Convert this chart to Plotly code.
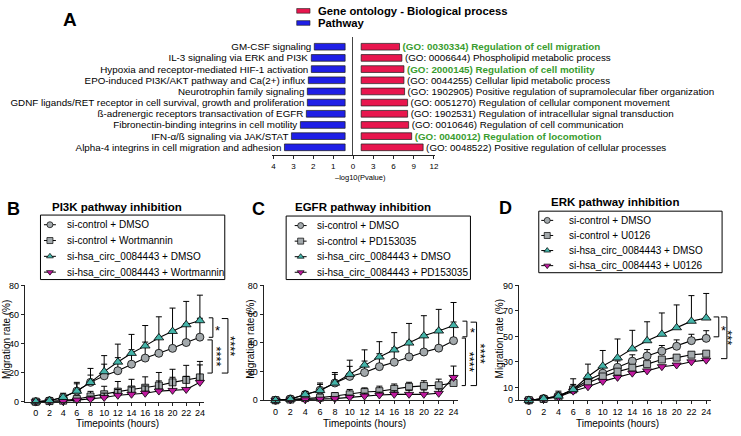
import plotly.graph_objects as go

W, H = 741, 436
FONT = "Liberation Sans, Arial, Helvetica, sans-serif"

# ---------------- Panel A data ----------------
pathway_terms = [
    "GM-CSF signaling",
    "IL-3 signaling via ERK and PI3K",
    "Hypoxia and receptor-mediated HIF-1 activation",
    "EPO-induced PI3K/AKT pathway and Ca(2+) influx",
    "Neurotrophin family signaling",
    "GDNF ligands/RET receptor in cell survival, growth and proliferation",
    "ß-adrenergic receptors transactivation of EGFR",
    "Fibronectin-binding integrins in cell motility",
    "IFN-α/ß signaling via JAK/STAT",
    "Alpha-4 integrins in cell migration and adhesion",
]
pathway_logp = [1.95, 2.1, 2.1, 2.25, 2.3, 2.3, 2.35, 2.65, 3.1, 3.45]

go_terms = [
    "(GO: 0030334) Regulation of cell migration",
    "(GO: 0006644) Phospholipid metabolic process",
    "(GO: 2000145) Regulation of cell motility",
    "(GO: 0044255) Cellular lipid metabolic process",
    "(GO: 1902905) Positive regulation of supramolecular fiber organization",
    "(GO: 0051270) Regulation of cellular component movement",
    "(GO: 1902531) Regulation of intracellular signal transduction",
    "(GO: 0010646) Regulation of cell communication",
    "(GO: 0040012) Regulation of locomotion",
    "(GO: 0048522) Positive regulation of cellular processes",
]
go_logp = [6.9, 7.25, 7.55, 7.55, 7.65, 8.1, 8.1, 8.25, 8.7, 10.4]
go_highlight = [True, False, True, False, False, False, False, False, True, False]

left_ticks = [0, 1, 2, 3, 4]
right_ticks = [0, 3, 6, 9, 12]
right_ticktext = ["", "3", "6", "9", "12"]

# ---------------- Panels B-D data ----------------
hours = [0, 2, 4, 6, 8, 10, 12, 14, 16, 18, 20, 22, 24]

b_names = ["si-control + DMSO", "si-control + Wortmannin",
           "si-hsa_circ_0084443 + DMSO", "si-hsa_circ_0084443 + Wortmannin"]
b_ctrl_dmso = [0, 0.7, 3, 7.3, 13.3, 17.8, 21.3, 25.8, 30, 33.3, 36.7, 40.7, 44.4]
b_ctrl_dmso_err = [0, 0.5, 2, 5, 5, 8, 9, 10, 11, 11, 12, 13, 13]
b_ctrl_inh = [0, 0.4, 0.7, 1.8, 3.6, 5.1, 6.9, 8.4, 9.6, 11.1, 13.3, 15, 16.7]
b_ctrl_inh_err = [0, 0.3, 1, 2, 3.5, 5.5, 7, 7, 7.5, 9, 9, 10, 11]
b_si_dmso = [0, 0.7, 3, 7.3, 13.3, 20.7, 27.3, 33.3, 38.4, 44, 48.4, 53, 55.8]
b_si_dmso_err = [0, 0.5, 2.8, 6, 9.6, 11, 12.3, 13, 14, 14.4, 16, 16, 17.5]
b_si_inh = [0, 0.3, 0.2, 1.1, 1.8, 2.9, 4.4, 5.1, 5.8, 7.3, 7.8, 8.4, 13.3]
b_si_inh_err = [0, 0.2, 0.5, 1, 2, 3, 4, 5, 5, 7, 9, 9, 12]

c_names = ["si-control + DMSO", "si-control + PD153035",
           "si-hsa_circ_0084443 + DMSO", "si-hsa_circ_0084443 + PD153035"]
c_ctrl_dmso = [0, 0.9, 4, 7, 12, 16.6, 19.3, 23.4, 26.5, 30.2, 33.6, 36.3, 41.5]
c_ctrl_dmso_err = [0, 0.5, 1.5, 4, 6, 7, 8, 9, 10, 11, 12, 13, 13]
c_ctrl_inh = [0, 0.5, 1.5, 1.8, 2.9, 4.1, 5.7, 6.3, 7.9, 9.3, 10, 10.4, 12]
c_ctrl_inh_err = [0, 0.3, 1, 1.5, 2.3, 3.4, 2.9, 3.5, 3.4, 3.2, 3.6, 4.3, 5]
c_si_dmso = [0, 0.7, 4, 6.8, 12, 18.1, 24.5, 30.2, 35.1, 39.9, 44.9, 48.3, 52.1]
c_si_dmso_err = [0, 0.5, 2, 5.2, 7.3, 9.8, 10.6, 10.6, 12, 13.6, 14, 15, 16]
c_si_inh = [0, 0.2, 0.3, 0.7, 1.1, 2, 2.9, 3.6, 4.1, 4.1, 4.1, 4.8, 15.9]
c_si_inh_err = [0, 0.2, 0.3, 0.5, 1, 1.5, 2, 2, 2.5, 3, 3, 3, 7.9]

d_names = ["si-control + DMSO", "si-control + U0126",
           "si-hsa_circ_0084443 + DMSO", "si-hsa_circ_0084443 + U0126"]
d_ctrl_dmso = [0, 1.3, 3.3, 8.4, 15.6, 21.2, 25.8, 30.6, 34.7, 38.5, 42.3, 46.7, 48.5]
d_ctrl_dmso_err = [0, 0.5, 2, 4, 4, 5, 5, 5, 5, 4.4, 5, 5, 6]
d_ctrl_inh = [0, 1, 2.8, 8.4, 13.5, 18.6, 22.4, 25.5, 28.3, 31.9, 33.4, 35.7, 36.5]
d_ctrl_inh_err = [0, 0.5, 1, 2, 2, 2, 2, 2, 2, 2, 2, 2, 2]
d_si_dmso = [0, 1.3, 3.3, 8.4, 18.6, 26.8, 33.2, 40.3, 46.7, 51.8, 56.9, 62, 64.5]
d_si_dmso_err = [0, 0.5, 3.8, 8.4, 9.7, 12.2, 14.8, 14.5, 14.8, 16.6, 17.8, 20, 19.2]
d_si_inh = [0, 1, 2.5, 7.1, 10.5, 14.8, 17.9, 21.2, 23, 26.3, 27.6, 30.1, 31.4]
d_si_inh_err = [0, 0.3, 0.5, 1, 1, 1, 1, 1, 1, 1, 1, 1, 1]

b_ticks = [0, 20, 40, 60, 80]
c_ticks = [0, 20, 40, 60, 80]
d_ticks = [0, 10, 30, 50, 70, 90]
hour_ticks = hours

# significance: (label, upper value, lower value)
b_sig = [("*", 57.7, 44.3), ("****", 42.5, 19.7), ("****", 57.2, 19.7)]
c_sig = [("*", 55.1, 44.2), ("****", 43.3, 10.2), ("****", 54.4, 10.2)]
d_sig = [("*", 65.3, 49.7), ("***", 65.3, 32.6)]

# ---------------- styles ----------------
GREY = "#a3a9ac"
TEAL = "#44b4a9"
MAGENTA = "#c0189f"
BLUE = "#1f1fe6"
RED = "#e8164e"
GREEN = "#3a9d2f"
styles = [
    dict(symbol="circle", color=GREY, size=8),
    dict(symbol="square", color=GREY, size=7),
    dict(symbol="triangle-up", color=TEAL, size=8.5),
    dict(symbol="triangle-down", color=MAGENTA, size=8),
]
LABEL_SIZE = 9.8


def px_x(p):
    return p / W


def px_y(p):
    return 1 - p / H


fig = go.Figure()
annotations = []
shapes = []

# ---------------- Panel A ----------------
LEFT_GAP = 0.4
RIGHT_GAP = 1.2
A_TOP, A_BOT = 33, 154
A_YRANGE = [9.73, -0.85]

fig.add_trace(go.Bar(
    y=pathway_terms, x=[v - LEFT_GAP for v in pathway_logp], base=LEFT_GAP,
    orientation="h", width=0.6,
    marker=dict(color=BLUE, line=dict(color="#1a1a1a", width=0.7)),
    text=pathway_terms, textposition="outside", constraintext="none",
    textfont=dict(size=LABEL_SIZE, color="black", family=FONT),
    cliponaxis=False, xaxis="x", yaxis="y", showlegend=False, hoverinfo="skip"))

go_text = [("<b>%s</b>" % t) if h else t for t, h in zip(go_terms, go_highlight)]
go_colors = [GREEN if h else "black" for h in go_highlight]
fig.add_trace(go.Bar(
    y=go_terms, x=[v - RIGHT_GAP for v in go_logp], base=RIGHT_GAP,
    orientation="h", width=0.6,
    marker=dict(color=RED, line=dict(color="#1a1a1a", width=0.7)),
    text=go_text, textposition="outside", constraintext="none",
    textfont=dict(size=LABEL_SIZE, color=go_colors, family=FONT),
    cliponaxis=False, xaxis="x2", yaxis="y2", showlegend=False, hoverinfo="skip"))

axis_common = dict(showgrid=False, zeroline=False, fixedrange=True,
                   linecolor="#222", linewidth=1, tickcolor="#222",
                   ticks="outside", ticklen=3, tickwidth=1)

layout_axes = {}
layout_axes["xaxis"] = dict(axis_common, domain=[px_x(273), px_x(355)], range=[4.1, 0],
                            anchor="y", showline=True, tickvals=left_ticks,
                            tickfont=dict(size=8, family=FONT, color="black"))
layout_axes["yaxis"] = dict(domain=[px_y(A_BOT), px_y(A_TOP)], type="category",
                            categoryarray=pathway_terms, range=A_YRANGE, anchor="x",
                            visible=False, fixedrange=True)
layout_axes["xaxis2"] = dict(axis_common, domain=[px_x(355), px_x(437.6)], range=[0, 12.2],
                             anchor="y2", showline=True, tickvals=right_ticks,
                             ticktext=right_ticktext,
                             tickfont=dict(size=8, family=FONT, color="black"))
layout_axes["yaxis2"] = dict(domain=[px_y(A_BOT), px_y(A_TOP)], type="category",
                             categoryarray=go_terms, range=A_YRANGE, anchor="x2",
                             showline=True, linecolor="#444", linewidth=1,
                             showticklabels=False, ticks="", showgrid=False,
                             zeroline=False, fixedrange=True)

annotations.append(dict(text="–log10(Pvalue)", x=px_x(362.5), y=px_y(177), xref="paper",
                        yref="paper", showarrow=False, xanchor="center", yanchor="middle",
                        font=dict(size=7.5, family=FONT, color="black")))
annotations.append(dict(text="<b>A</b>", x=px_x(70), y=px_y(15), xref="paper", yref="paper",
                        showarrow=False, xanchor="center", yanchor="middle",
                        font=dict(size=19, family=FONT, color="black")))
for col, label, yc in [(RED, "Gene ontology - Biological process", 6),
                       (BLUE, "Pathway", 18.4)]:
    shapes.append(dict(type="rect", xref="paper", yref="paper",
                       x0=px_x(298.3), x1=px_x(311.7), y0=px_y(yc - 2.4), y1=px_y(yc + 2.4),
                       fillcolor=col, line=dict(color="#222", width=0.6)))
    annotations.append(dict(text="<b>%s</b>" % label, x=px_x(318), y=px_y(yc), xref="paper",
                            yref="paper", showarrow=False, xanchor="left", yanchor="middle",
                            font=dict(size=11.3, family=FONT, color="black")))

# ---------------- Panels B-D ----------------
panels = [
    dict(letter="B", title="PI3K pathway inhibition", names=b_names,
         series=[(b_ctrl_dmso, b_ctrl_dmso_err), (b_ctrl_inh, b_ctrl_inh_err),
                 (b_si_dmso, b_si_dmso_err), (b_si_inh, b_si_inh_err)],
         yticks=b_ticks, yr=[0, 80], xr=[-1.6, 24.6], xpx=[25, 205.1], ypx=[287, 406],
         letter_pos=(13.7, 209), title_pos=(50, 206.7), ytitle_x=6, ytitle_y=342,
         box=(40.7, 215, 226, 281), sym_off=9.5, text_off=24.5,
         sig=b_sig, brk=[(25.9, 25.3, 26.6), (25.8, 25.1, 26.8), (28.1, 27.2, 28.8)]),
    dict(letter="C", title="EGFR pathway inhibition", names=c_names,
         series=[(c_ctrl_dmso, c_ctrl_dmso_err), (c_ctrl_inh, c_ctrl_inh_err),
                 (c_si_dmso, c_si_dmso_err), (c_si_inh, c_si_inh_err)],
         yticks=c_ticks, yr=[0, 80], xr=[-1.6, 24.6], xpx=[265.1, 460.5], ypx=[287, 404.5],
         letter_pos=(260, 209), title_pos=(295, 206.7), ytitle_x=252, ytitle_y=342,
         box=(287.7, 216, 473, 281), sym_off=14.6, text_off=29,
         sig=c_sig, brk=[(25.8, 25.2, 26.5), (25.6, 25.1, 26.5), (27.1, 26.3, 28.0)]),
    dict(letter="D", title="ERK pathway inhibition", names=d_names,
         series=[(d_ctrl_dmso, d_ctrl_dmso_err), (d_ctrl_inh, d_ctrl_inh_err),
                 (d_si_dmso, d_si_dmso_err), (d_si_inh, d_si_inh_err)],
         yticks=d_ticks, yr=[0, 90], xr=[-1.35, 24.6], xpx=[521.7, 714.5], ypx=[287, 404.5],
         letter_pos=(508, 208), title_pos=(551.7, 201.5), ytitle_x=502, ytitle_y=342,
         box=(541.7, 211, 726, 274), sym_off=8.5, text_off=28.3,
         sig=d_sig, brk=[(25.7, 25.0, 26.4), (26.8, 26.0, 27.3)]),
]

draw_order = [0, 1, 3, 2]

for pi, P in enumerate(panels):
    ax_n = 3 + pi
    lg_n = 6 + pi
    xa, ya = "x%d" % ax_n, "y%d" % ax_n
    xl, yl = "x%d" % lg_n, "y%d" % lg_n

    def hx(h, P=P):
        (p0, p1), (r0, r1) = P["xpx"], P["xr"]
        return px_x(p0 + (h - r0) / (r1 - r0) * (p1 - p0))

    def vy(v, P=P):
        (ptop, pbot), (r0, r1) = P["ypx"], P["yr"]
        return px_y(pbot - (v - r0) / (r1 - r0) * (pbot - ptop))

    for si in draw_order:
        vals, err = P["series"][si]
        st = styles[si]
        fig.add_trace(go.Scatter(
            x=hours, y=vals, mode="lines+markers", xaxis=xa, yaxis=ya,
            line=dict(color="black", width=1.1),
            marker=dict(symbol=st["symbol"], size=st["size"], color=st["color"],
                        line=dict(color="black", width=0.8)),
            error_y=dict(type="data", array=err, arrayminus=[0] * len(err), symmetric=False,
                         color="black", thickness=1, width=3),
            cliponaxis=False, showlegend=False, hoverinfo="skip"))

    layout_axes["xaxis%d" % ax_n] = dict(
        axis_common, domain=[px_x(P["xpx"][0]), px_x(P["xpx"][1])], range=P["xr"],
        anchor=ya, showline=True, tickvals=hour_ticks,
        tickfont=dict(size=9, family=FONT, color="black"))
    layout_axes["yaxis%d" % ax_n] = dict(
        axis_common, domain=[px_y(P["ypx"][1]), px_y(P["ypx"][0])], range=P["yr"],
        anchor=xa, showline=True, tickvals=P["yticks"],
        tickfont=dict(size=9, family=FONT, color="black"))

    annotations.append(dict(text="Timepoints (hours)", xref="paper", yref="paper",
                            x=hx(12), y=px_y(428), showarrow=False, xanchor="center",
                            yanchor="middle", font=dict(size=10, family=FONT, color="black")))
    annotations.append(dict(text="Migration rate (%)", xref="paper", yref="paper",
                            x=px_x(P["ytitle_x"]), y=px_y(P["ytitle_y"]), showarrow=False,
                            textangle=-90, xanchor="center", yanchor="middle",
                            font=dict(size=10, family=FONT, color="black")))
    annotations.append(dict(text="<b>%s</b>" % P["letter"], xref="paper", yref="paper",
                            x=px_x(P["letter_pos"][0]), y=px_y(P["letter_pos"][1]),
                            showarrow=False, xanchor="center", yanchor="middle",
                            font=dict(size=18, family=FONT, color="black")))
    annotations.append(dict(text="<b>%s</b>" % P["title"], xref="paper", yref="paper",
                            x=px_x(P["title_pos"][0]), y=px_y(P["title_pos"][1]),
                            showarrow=False, xanchor="left", yanchor="middle",
                            font=dict(size=11.5, family=FONT, color="black")))

    # significance brackets
    for (lab, vtop, vbot), (hv, ht, hs) in zip(P["sig"], P["brk"]):
        xv, xt = hx(hv), hx(ht)
        yt, yb = vy(vtop), vy(vbot)
        shapes.append(dict(type="path", xref="paper", yref="paper",
                           path="M %f %f L %f %f L %f %f L %f %f" % (xt, yt, xv, yt, xv, yb, xt, yb),
                           line=dict(color="black", width=1)))
        ymid = (yt + yb) / 2
        if len(lab) == 1:
            annotations.append(dict(text=lab, xref="paper", yref="paper", x=hx(hs),
                                    y=ymid - 3.5 / H, showarrow=False, xanchor="center",
                                    yanchor="middle",
                                    font=dict(size=13, family=FONT, color="black")))
        else:
            annotations.append(dict(text=lab, xref="paper", yref="paper", x=hx(hs) - 3.0 / W,
                                    y=ymid, showarrow=False, textangle=90, xanchor="center",
                                    yanchor="middle",
                                    font=dict(size=13, family=FONT, color="black")))

    # legend box (manual)
    bx0, by0, bx1, by1 = P["box"]
    bw, bh = bx1 - bx0, by1 - by0
    shapes.append(dict(type="rect", xref="paper", yref="paper",
                       x0=px_x(bx0), x1=px_x(bx1), y0=px_y(by1), y1=px_y(by0),
                       line=dict(color="black", width=1), fillcolor="rgba(0,0,0,0)"))
    layout_axes["xaxis%d" % lg_n] = dict(domain=[px_x(bx0), px_x(bx1)], range=[0, bw],
                                         anchor=yl, visible=False, fixedrange=True)
    layout_axes["yaxis%d" % lg_n] = dict(domain=[px_y(by1), px_y(by0)], range=[bh, 0],
                                         anchor=xl, visible=False, fixedrange=True)
    for si, name in enumerate(P["names"]):
        st = styles[si]
        yc = bh * (0.15 + 0.245 * si)
        so = P["sym_off"]
        fig.add_trace(go.Scatter(x=[so - 6, so + 6], y=[yc, yc], mode="lines",
                                 line=dict(color="black", width=1), xaxis=xl, yaxis=yl,
                                 showlegend=False, hoverinfo="skip"))
        fig.add_trace(go.Scatter(x=[so], y=[yc], mode="markers", xaxis=xl, yaxis=yl,
                                 marker=dict(symbol=st["symbol"], size=6, color=st["color"],
                                             line=dict(color="black", width=0.7)),
                                 showlegend=False, hoverinfo="skip", cliponaxis=False))
        annotations.append(dict(text=name, xref="paper", yref="paper",
                                x=px_x(bx0 + P["text_off"]), y=px_y(by0 + yc),
                                showarrow=False, xanchor="left", yanchor="middle",
                                font=dict(size=10, family=FONT, color="black")))

fig.update_layout(
    width=W, height=H, margin=dict(l=0, r=0, t=0, b=0),
    paper_bgcolor="white", plot_bgcolor="white",
    font=dict(family=FONT, color="black"),
    showlegend=False, annotations=annotations, shapes=shapes,
    **layout_axes)

fig.write_html("out.html", config={"displayModeBar": False, "staticPlot": True},
               post_script="document.body.style.margin='0';document.body.style.overflow='hidden';")
